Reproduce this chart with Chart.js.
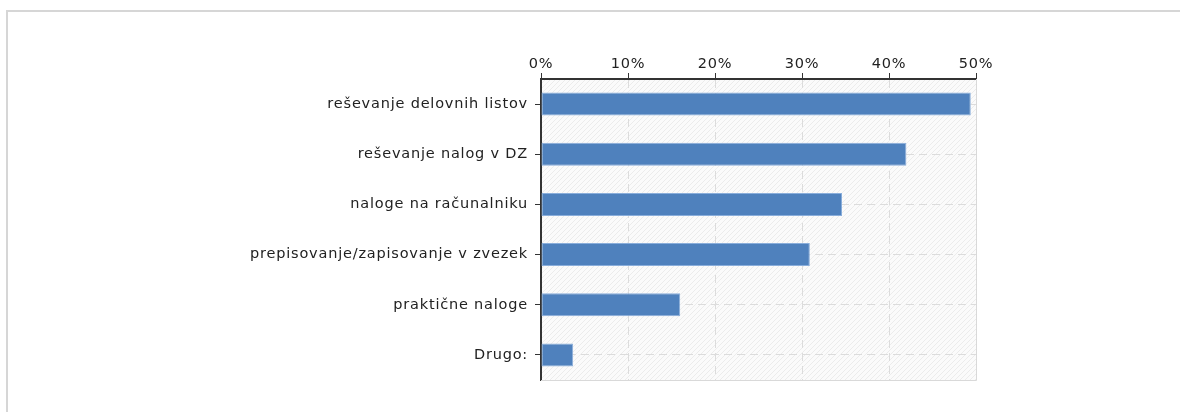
<!DOCTYPE html>
<html><head><meta charset="utf-8">
<script src="https://cdn.jsdelivr.net/npm/chart.js@4"></script>
<style>
html,body{margin:0;padding:0;background:#fff;overflow:hidden;}
#wrap{position:relative;width:1180px;height:412px;overflow:hidden;}
#frame{position:absolute;left:6px;top:10px;width:1500px;height:600px;border-top:2px solid #d6d6d6;border-left:2px solid #d6d6d6;}
canvas{position:absolute;left:0;top:0;}
</style></head><body>
<div id="wrap"><div id="frame"></div><canvas id="c" width="1180" height="412"></canvas></div>
<script>
const categories = [
  "reševanje delovnih listov",
  "reševanje nalog v DZ",
  "naloge na računalniku",
  "prepisovanje/zapisovanje v zvezek",
  "praktične naloge",
  "Drugo:"
];
const values = [49.4, 42.0, 34.6, 30.9, 16.0, 3.7];
const axisMin = 0;
const axisMax = 50;
const axisStep = 10;

const FONT = {family: "'DejaVu Sans', Verdana, sans-serif", size: 14.5};
const TEXT = '#222222';

function makePattern(ctx){
  const p = document.createElement('canvas');
  p.width = 5; p.height = 5;
  const g = p.getContext('2d');
  g.fillStyle = '#fbfbfb';
  g.fillRect(0,0,5,5);
  g.strokeStyle = '#ececec';
  g.lineWidth = 1;
  g.beginPath();
  g.moveTo(0,5); g.lineTo(5,0);
  g.moveTo(-1,1); g.lineTo(1,-1);
  g.moveTo(4,6); g.lineTo(6,4);
  g.stroke();
  return ctx.createPattern(p,'repeat');
}

const spacingPlugin = {
  id:'spacing',
  beforeLayout(c){ c.ctx.letterSpacing = '0.8px'; },
  beforeDraw(c){ c.ctx.letterSpacing = '0.8px'; }
};
const bgPlugin = {
  id:'bg',
  beforeDraw(c){
    const {ctx, chartArea:a} = c;
    ctx.save();
    ctx.fillStyle = makePattern(ctx);
    ctx.fillRect(a.left, a.top, a.right-a.left, a.bottom-a.top);
    ctx.restore();
  },
  beforeDatasetsDraw(c){
    const {ctx, chartArea:a} = c;
    ctx.save();
    ctx.strokeStyle = '#d9d9d9';
    ctx.lineWidth = 1;
    ctx.beginPath();
    ctx.moveTo(a.right+0.5, a.top);
    ctx.lineTo(a.right+0.5, a.bottom+0.5);
    ctx.lineTo(a.left, a.bottom+0.5);
    ctx.stroke();
    ctx.restore();
  }
};

new Chart(document.getElementById('c'), {
  type:'bar',
  data:{
    labels: categories,
    datasets:[{
      data: values,
      backgroundColor:'#4f81bd',
      borderColor:'#8aaedb',
      borderWidth:1,
      borderSkipped:false,
      barPercentage:0.46,
      categoryPercentage:1
    }]
  },
  options:{
    indexAxis:'y',
    responsive:false,
    animation:false,
    layout:{padding:{left:0,right:204,top:0,bottom:32}},
    plugins:{legend:{display:false}, tooltip:{enabled:false}},
    scales:{
      x:{
        position:'top',
        min:axisMin, max:axisMax,
        ticks:{stepSize:axisStep, callback:v=>v+'%', font:FONT, color:TEXT, padding:0, maxRotation:0},
        grid:{color:'#dcdcdc', lineWidth:1, tickColor:'#333', tickLength:6, tickWidth:1},
        border:{display:true, color:'#333', width:2, dash:[8,5]},
        afterFit(s){ s.height = 79; }
      },
      y:{
        ticks:{font:FONT, color:TEXT, padding:7},
        grid:{offset:false, color:'#dcdcdc', lineWidth:1, tickColor:'#333', tickLength:6, tickWidth:1},
        border:{display:true, color:'#333', width:2, dash:[8,5]},
        afterFit(s){ s.width = 541; }
      }
    }
  },
  plugins:[spacingPlugin, bgPlugin]
});
</script>
</body></html>
